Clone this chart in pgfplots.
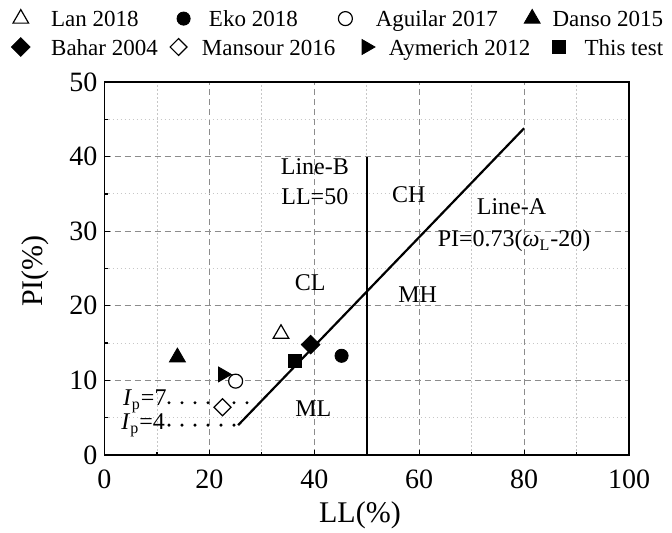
\documentclass[border=0pt]{standalone}
\usepackage{pgfplots}
\pgfplotsset{compat=1.18}
\usepackage{fontspec}
\setmainfont{Liberation Serif}

% marker styles for each data source
\tikzset{
  lan/.style={mark=triangle*, mark size=4.5pt, mark options={solid, draw=black, fill=white, line width=0.6pt}},
  eko/.style={mark=*, mark size=3.3pt, mark options={solid, draw=black, fill=black}},
  aguilar/.style={mark=*, mark size=3.5pt, mark options={solid, draw=black, fill=white, line width=0.6pt}},
  danso/.style={mark=triangle*, mark size=4.6pt, mark options={solid, draw=black, fill=black}},
  bahar/.style={mark=square*, mark size=3.3pt, mark options={solid, rotate=45, draw=black, fill=black}},
  mansour/.style={mark=square*, mark size=3.0pt, mark options={solid, rotate=45, draw=black, fill=white, line width=0.6pt}},
  aymerich/.style={mark=triangle*, mark size=4.3pt, mark options={solid, rotate=-90, draw=black, fill=black}},
  thistest/.style={mark=square*, mark size=3.3pt, mark options={solid, draw=black, fill=black}},
  lbl/.style={anchor=base, font=\fontsize{12}{14}\selectfont, inner sep=0pt},
  dots/.style={black, line width=1.7pt, line cap=round, dash pattern=on 0pt off 6.5pt},
}

\pgfplotsset{
  frame/.style={
    at={(0,0)}, anchor=south west,
    scale only axis, width=262.25pt, height=186.5pt,
    xmin=0, xmax=100, ymin=0, ymax=50,
  },
  keyrow/.style={
    legend image code/.code={\path (-6pt,0pt) (6pt,0pt); \draw[##1] plot coordinates {(0pt,0pt)};},
    legend columns=4,
    legend style={draw=none, fill=none, inner sep=0pt, column sep=0pt,
      at={(axis description cs:-0.18399,#1)}, anchor=west,
      font=\fontsize{11.5}{13}\selectfont,
      nodes={inner sep=0pt, text height=8pt, text depth=0pt},
      cells={anchor=center}},
  },
}

\newcommand{\key}[3]{\makebox[#1][l]{\hspace{#2}#3}}

\begin{document}
\begin{tikzpicture}
\begin{axis}[
  frame,
  xtick={0,20,...,100}, ytick={0,10,...,50},
  minor x tick num=1, minor y tick num=1,
  grid=both,
  major grid style={draw=black!45, line width=0.45pt, dash pattern=on 3pt off 2pt},
  minor grid style={draw=black!22, line width=0.45pt, dash pattern=on 0.8pt off 1.2pt},
  axis line style={line width=0.8pt},
  tick align=inside, tick pos=left,
  major tick length=2.5pt, minor tick length=1.6pt,
  every tick/.style={black, line width=0.6pt},
  tick label style={font=\fontsize{14}{16}\selectfont},
  /pgf/number format/assume math mode=true,
  xticklabel style={anchor=base, yshift=-16.5pt},
  xlabel={LL(\%)}, ylabel={PI(\%)},
  label style={font=\fontsize{15}{18}\selectfont},
  xlabel style={at={(axis description cs:0.487,-0.1823)}, anchor=base},
  ylabel style={at={(axis description cs:-0.1173,0.493)}, anchor=base},
  keyrow=1.17158,
]
% Line-A: PI = 0.73(LL-20)
\addplot[black, line width=1.1pt, forget plot] coordinates {(25.48,4) (80,43.8)};
% Line-B: LL = 50
\addplot[black, line width=1.1pt, forget plot] coordinates {(50,0) (50,40)};
% Ip = 7 and Ip = 4
\addplot[dots, forget plot] coordinates {(12.3,7) (29.6,7)};
\addplot[dots, forget plot] coordinates {(12.3,4) (25.48,4)};

\addplot[only marks, lan, forget plot] coordinates {(33.65,16.25)};
\addplot[only marks, eko, forget plot] coordinates {(45.2,13.3)};
\addplot[only marks, aguilar, forget plot] coordinates {(25.0,9.9)};
\addplot[only marks, danso, forget plot] coordinates {(13.9,13.1)};
\addplot[only marks, bahar, forget plot] coordinates {(39.3,14.8)};
\addplot[only marks, mansour, forget plot] coordinates {(22.5,6.4)};
\addplot[only marks, aymerich, forget plot] coordinates {(22.55,10.8)};
\addplot[only marks, thistest, forget plot] coordinates {(36.3,12.6)};

\addlegendimage{lan}\addlegendentry{\key{69pt}{9pt}{Lan 2018}}
\addlegendimage{eko}\addlegendentry{\key{68.5pt}{6.5pt}{Eko 2018}}
\addlegendimage{aguilar}\addlegendentry{\key{81pt}{9pt}{Aguilar 2017}}
\addlegendimage{danso}\addlegendentry{\hspace{4pt}Danso 2015}

\node[lbl] at (axis cs:40.1,37.6) {Line-B};
\node[lbl] at (axis cs:40.1,33.6) {LL=50};
\node[lbl] at (axis cs:58.0,33.8) {CH};
\node[lbl] at (axis cs:39.2,22.1) {CL};
\node[lbl] at (axis cs:59.7,20.4) {MH};
\node[lbl] at (axis cs:39.8,5.1) {ML};
\node[lbl] at (axis cs:77.6,32.2) {Line-A};
\node[lbl] at (axis cs:78.1,27.9) {PI=0.73(\textit{ω}\textsubscript{L}-20)};
\node[lbl, anchor=base east] at (axis cs:11.9,6.6) {\textit{I}\textsubscript{p}=7};
\node[lbl, anchor=base east] at (axis cs:11.6,3.4) {\textit{I}\textsubscript{p}=4};
\end{axis}

% second key row
\begin{axis}[frame, hide axis, keyrow=1.09383]
\addlegendimage{bahar}\addlegendentry{\key{66.5pt}{9pt}{Bahar 2004}}
\addlegendimage{mansour}\addlegendentry{\key{81.5pt}{5.5pt}{Mansour 2016}}
\addlegendimage{aymerich}\addlegendentry{\key{84pt}{5pt}{Aymerich 2012}}
\addlegendimage{thistest}\addlegendentry{\hspace{6.5pt}This test}
\end{axis}

\pgfresetboundingbox
\path[use as bounding box] (-52.25pt,-39pt) rectangle (283.75pt,227.5pt);
\end{tikzpicture}
\end{document}
